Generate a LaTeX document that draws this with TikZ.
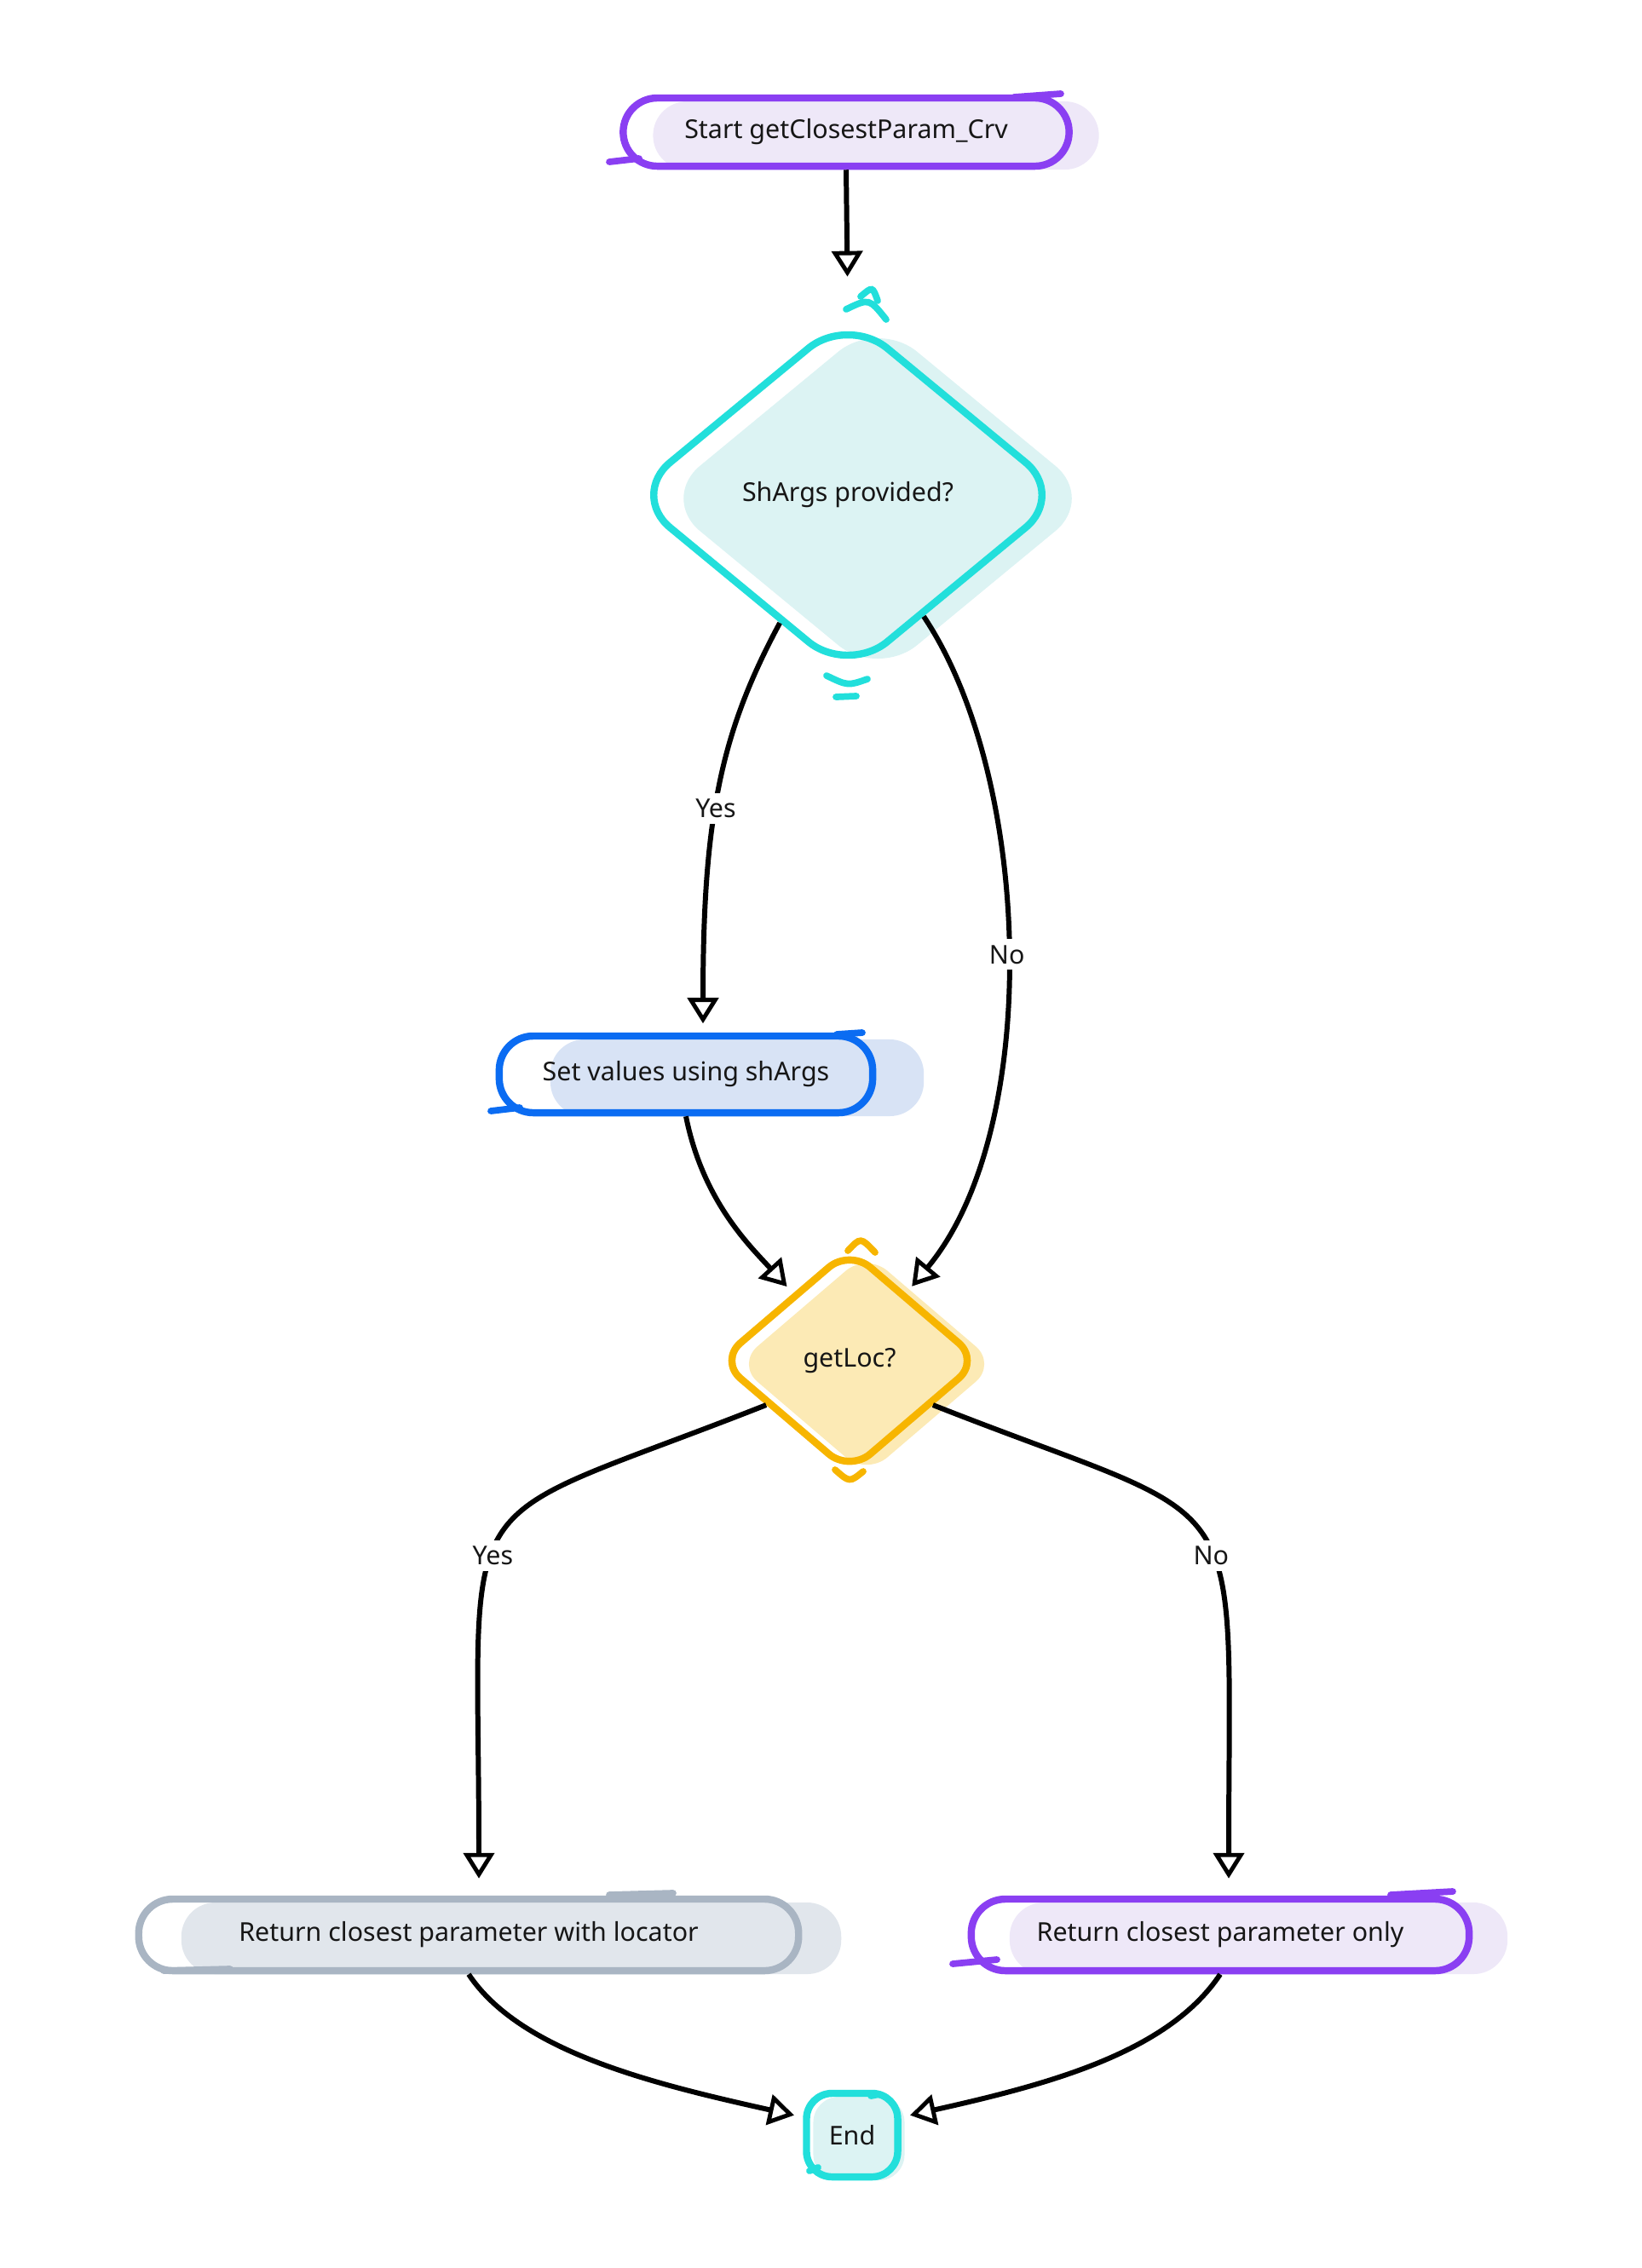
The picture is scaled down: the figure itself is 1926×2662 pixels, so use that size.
\documentclass[tikz,border=0pt]{standalone}
\usepackage{fontspec}
\setmainfont{Noto Sans}
\usepackage{tikz}
\usetikzlibrary{shapes.geometric}
\usetikzlibrary{arrows.meta}

\definecolor{purpleline}{HTML}{8A3FF2}
\definecolor{purplefill}{HTML}{EEE8F8}
\definecolor{tealline}{HTML}{22DFDB}
\definecolor{tealfill}{HTML}{DCF3F3}
\definecolor{blueline}{HTML}{0B6CF2}
\definecolor{bluefill}{HTML}{D8E3F5}
\definecolor{yellowline}{HTML}{F7B500}
\definecolor{yellowfill}{HTML}{FCEAB5}
\definecolor{grayline}{HTML}{A9B5C3}
\definecolor{grayfill}{HTML}{E1E6EC}
\definecolor{ink}{HTML}{161616}

\tikzset{
	every node/.style={font=\fontsize{8.65}{10.5}\selectfont, text=ink},
	sketch/.style={line width=2.4pt, line join=round, line cap=round},
	flick/.style={line width=2.2pt, line cap=round},
	shade/.style 2 args={preaction={fill=#1, draw=none, transform canvas={xshift=#2, yshift=-0.04cm}}},
	pill/.style={sketch, rectangle, rounded corners=0.4cm, inner sep=0pt},
	startbox/.style={pill, draw=purpleline, shade={purplefill}{0.35cm}, minimum width=5.23cm, minimum height=0.8cm},
	setbox/.style={pill, draw=blueline, shade={bluefill}{0.6cm}, minimum width=4.38cm, minimum height=0.9cm},
	locbox/.style={pill, draw=grayline, shade={grayfill}{0.5cm}, minimum width=7.74cm, minimum height=0.84cm},
	onlybox/.style={pill, draw=purpleline, shade={purplefill}{0.45cm}, minimum width=5.84cm, minimum height=0.84cm},
	endbox/.style={sketch, rectangle, rounded corners=0.3cm, draw=tealline, shade={tealfill}{0.08cm}, minimum width=1.07cm, minimum height=0.98cm, inner sep=0pt},
	askbig/.style={sketch, diamond, rounded corners=0.6cm, draw=tealline, shade={tealfill}{0.35cm}, minimum width=5.13cm, minimum height=4.24cm, inner sep=0pt},
	asksmall/.style={sketch, diamond, rounded corners=0.32cm, draw=yellowline, shade={yellowfill}{0.2cm}, minimum width=3.08cm, minimum height=2.64cm, inner sep=0pt},
	flow/.style={line width=1.7pt, draw=black, -{Triangle[open, length=0.3cm, width=0.36cm, line width=1.4pt]}, shorten >=3pt},
	lbl/.style={fill=white, inner sep=2pt}
}

\begin{document}
\begin{tikzpicture}[x=0.01cm, y=-0.01cm]
	\useasboundingbox (0,0) rectangle (1926,2662);

	% draw nodes
	\node[startbox] (start) at (993,155) {Start getClosestParam\_Crv};
	\node[askbig] (shargs) at (995,581) {ShArgs provided?};
	\node[setbox] (setv) at (805,1261) {Set values using shArgs};
	\node[asksmall] (getloc) at (997,1597) {getLoc?};
	\node[locbox] (retloc) at (550,2271) {Return closest parameter with locator};
	\node[onlybox] (retonly) at (1432,2271) {Return closest parameter only};
	\node[endbox] (finish) at (1000,2506) {End};

	% draw flicks
	\draw[flick, tealline] (1010,348) .. controls (1024,336) .. (1030,353);
	\draw[flick, tealline] (993,363) .. controls (1020,350) .. (1040,375);
	\draw[flick, tealline] (970,793) .. controls (995,805) .. (1018,797);
	\draw[flick, tealline] (981,818) -- (1005,817);
	\draw[flick, yellowline] (995,1468) .. controls (1010,1452) .. (1027,1470);
	\draw[flick, yellowline] (980,1725) .. controls (997,1740) .. (1013,1727);
	\draw[flick, purpleline] (1190,114) -- (1245,110);
	\draw[flick, purpleline] (715,190) -- (750,186);
	\draw[flick, blueline] (982,1214) -- (1012,1212);
	\draw[flick, blueline] (576,1304) -- (610,1300);
	\draw[flick, grayline] (715,2224) -- (790,2222);
	\draw[flick, grayline] (192,2313) -- (270,2311);
	\draw[flick, purpleline] (1632,2224) -- (1705,2220);
	\draw[flick, purpleline] (1118,2305) -- (1170,2300);
	\draw[flick, tealline] (1022,2460) -- (1032,2458);
	\draw[flick, tealline] (950,2548) -- (960,2544);

	% draw arrows
	\draw[flow, shorten >=0.4cm] (start.south) -- (shargs.north);
	\draw[flow] (shargs.-118) .. controls +(-70,130) and +(0,-250) .. ([xshift=0.2cm]setv.north) node[lbl, pos=0.55] {Yes};
	\draw[flow] (shargs.-58) .. controls +(128,191) and +(160,-192) .. (getloc.50) node[lbl, pos=0.5] {No};
	\draw[flow] (setv.south) .. controls +(20,100) and +(-50,-55) .. (getloc.130);
	\draw[flow, shorten >=0.2cm] (getloc.-152) .. controls +(-380,150) and +(0,-500) .. ([xshift=0.12cm]retloc.north) node[lbl, pos=0.55] {Yes};
	\draw[flow, shorten >=0.2cm] (getloc.-28) .. controls +(380,150) and +(0,-500) .. ([xshift=0.1cm]retonly.north) node[lbl, pos=0.55] {No};
	\draw[flow] (retloc.south) .. controls +(60,90) and +(-180,-40) .. (finish.160);
	\draw[flow] (retonly.south) .. controls +(-60,90) and +(180,-40) .. (finish.20);
\end{tikzpicture}
\end{document}
